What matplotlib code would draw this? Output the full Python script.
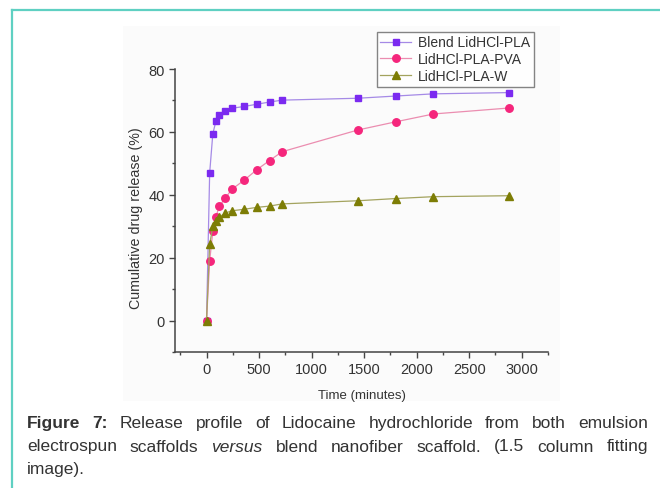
import matplotlib
matplotlib.use("Agg")
import matplotlib.pyplot as plt
from matplotlib.patches import Rectangle
from matplotlib.lines import Line2D
from matplotlib.ticker import MultipleLocator

plt.rcParams['font.family'] = ['Liberation Sans', 'DejaVu Sans']

# ---- data ----
time_min = [0, 30, 60, 90, 120, 180, 240, 360, 480, 600, 720, 1440, 1800, 2160, 2880]
blend = [0, 47.0, 59.4, 63.5, 65.3, 66.7, 67.5, 68.1, 68.8, 69.5, 70.1, 70.7, 71.4, 72.1, 72.5]
pva = [0, 19.0, 28.4, 33.0, 36.3, 39.0, 41.7, 44.7, 48.0, 50.9, 53.7, 60.6, 63.2, 65.7, 67.6]
w = [0, 24.2, 30.0, 31.8, 32.9, 34.2, 34.9, 35.4, 36.0, 36.4, 37.1, 38.1, 38.8, 39.4, 39.7]
series_labels = ["Blend LidHCl-PLA", "LidHCl-PLA-PVA", "LidHCl-PLA-W"]
x_label = "Time (minutes)"
y_label = "Cumulative drug release (%)"
caption_lines = [
    [("Figure", "bold"), ("7:", "bold"), ("Release", ""), ("profile", ""), ("of", ""),
     ("Lidocaine", ""), ("hydrochloride", ""), ("from", ""), ("both", ""), ("emulsion", "")],
    [("electrospun", ""), ("scaffolds", ""), ("versus", "italic"), ("blend", ""),
     ("nanofiber", ""), ("scaffold.", ""), ("(1.5", ""), ("column", ""), ("fitting", "")],
    [("image).", "")],
]

W, H = 660, 489
fig = plt.figure(figsize=(W / 100, H / 100), dpi=100)
fig.patch.set_facecolor('white')

def fx(px):
    return px / W

def fy(py):
    return 1 - py / H

# faint background of the pasted chart image
bg = Rectangle((fx(123), fy(402)), fx(560) - fx(123), fy(27) - fy(402),
               transform=fig.transFigure, facecolor='#fbfbfb', edgecolor='none', zorder=-5)
fig.add_artist(bg)

# teal frame lines (left and top)
teal = '#5fd0c2'
fig.add_artist(Line2D([fx(11.5), fx(11.5)], [fy(11), fy(489)], transform=fig.transFigure,
                      color=teal, lw=1.6))
fig.add_artist(Line2D([fx(11.5), fx(660)], [fy(11), fy(11)], transform=fig.transFigure,
                      color=teal, lw=1.6))

left, right, top, bottom = 175, 548, 70, 353
ax = fig.add_axes([fx(left), fy(bottom), fx(right) - fx(left), fy(top) - fy(bottom)])
ax.set_zorder(2)
ax.set_facecolor('none')

c_blend, c_pva, c_w = '#7b2af0', '#f5267c', '#7d7d05'
l_blend, l_pva, l_w = '#a58ae6', '#eb8db0', '#a3a35e'

ax.plot(time_min, blend, color=l_blend, lw=0.9, marker='s', ms=4.6,
        mfc=c_blend, mec=c_blend, label=series_labels[0], zorder=3)
ax.plot(time_min, pva, color=l_pva, lw=0.9, marker='o', ms=5.4,
        mfc=c_pva, mec=c_pva, label=series_labels[1], zorder=3)
ax.plot(time_min, w, color=l_w, lw=0.9, marker='^', ms=5.6,
        mfc=c_w, mec=c_w, label=series_labels[2], zorder=4)

ax.set_xlim(-300, 3250)
ax.set_ylim(-10, 80)
ax.xaxis.set_major_locator(MultipleLocator(500))
ax.xaxis.set_minor_locator(MultipleLocator(250))
ax.yaxis.set_major_locator(MultipleLocator(20))
ax.yaxis.set_minor_locator(MultipleLocator(10))
ax.set_yticks([0, 20, 40, 60, 80])

for s in ['top', 'right']:
    ax.spines[s].set_visible(False)
for s in ['left', 'bottom']:
    ax.spines[s].set_color('#444444')
    ax.spines[s].set_linewidth(1.1)

ax.tick_params(which='major', direction='out', length=4.5, width=1.0, color='#444444',
               labelsize=10.5, labelcolor='#333333', pad=3)
ax.tick_params(which='minor', direction='out', length=2.5, width=1.0, color='#444444')

ax.set_xlabel(x_label, fontsize=9.5, color='#333333', labelpad=9)
ax.set_ylabel(y_label, fontsize=10.3, color='#333333')
ax.yaxis.set_label_coords(-0.085, 0.475)

leg = ax.legend(loc='upper left', bbox_to_anchor=(fx(377), fy(33)),
                bbox_transform=fig.transFigure, fontsize=10, frameon=True,
                fancybox=False, borderaxespad=0, borderpad=0.25, labelspacing=0.2,
                handlelength=2.2, handletextpad=0.5, labelcolor='#333333')
leg.get_frame().set_edgecolor('#666666')
leg.get_frame().set_linewidth(1.0)
leg.get_frame().set_facecolor('white')

# caption, justified
renderer = fig.canvas.get_renderer()
cap_left, cap_right = 27, 648
line_y = [424, 447, 470]
for i, words in enumerate(caption_lines):
    texts = []
    for word, style in words:
        kw = dict(fontsize=12.5, color='#333333', va='center', ha='left')
        if style == 'bold':
            kw['fontweight'] = 'bold'
        if style == 'italic':
            kw['fontstyle'] = 'italic'
        t = fig.text(0, fy(line_y[i]), word, **kw)
        texts.append(t)
    widths = [t.get_window_extent(renderer).width for t in texts]
    if i < len(caption_lines) - 1 and len(texts) > 1:
        gap = (cap_right - cap_left - sum(widths)) / (len(texts) - 1)
    else:
        gap = 4.5
    x = cap_left
    for t, wd in zip(texts, widths):
        t.set_x(fx(x))
        x += wd + gap

fig.savefig('out.png', dpi=100)
